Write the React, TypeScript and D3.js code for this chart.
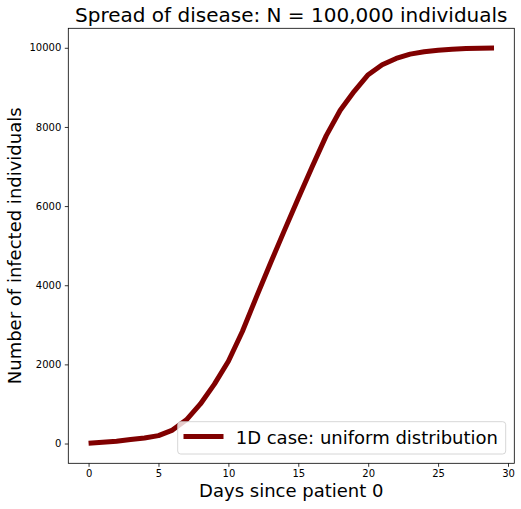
import React, { useRef, useEffect } from 'react';
import * as d3 from 'd3';

// days since patient 0 and the infected count
const days = d3.range(0, 30);
const infected = [
  5, 30, 60, 100, 140, 200, 340, 600, 1000, 1500,
  2080, 2830, 3700, 4550, 5380, 6200, 7000, 7780, 8420, 8900,
  9320, 9570, 9730, 9840, 9900, 9940, 9965, 9980, 9988, 9993,
];
const xTicks = [0, 5, 10, 15, 20, 25, 30];
const yTicks = [0, 2000, 4000, 6000, 8000, 10000];

const title = 'Spread of disease: N = 100,000 individuals';
const xLabel = 'Days since patient 0';
const yLabel = 'Number of infected individuals';
const legendLabel = '1D case: uniform distribution';

const App: React.FC = () => {
  const svgRef = useRef<SVGSVGElement>(null);

  const width = 521;
  const height = 509;
  const left = 68.3;
  const right = 514.3;
  const top = 28.3;
  const bottom = 463.3;
  const font = 'DejaVu Sans, sans-serif';
  const lineColor = '#800000';

  useEffect(() => {
    if (!svgRef.current) return;
    const svg = d3.select(svgRef.current);
    svg.selectAll('*').remove();

    // matplotlib style 5% margins
    const xPad = (d3.max(days)! - d3.min(days)!) * 0.05;
    const yMax = d3.max(infected)!;
    const yMin = Math.min(0, d3.min(infected)!);
    const yPad = (yMax - yMin) * 0.05;

    const x = d3.scaleLinear()
      .domain([d3.min(days)! - xPad, d3.max(days)! + xPad])
      .range([left, right]);
    const y = d3.scaleLinear()
      .domain([yMin - yPad, yMax + yPad])
      .range([bottom, top]);

    svg.append('rect')
      .attr('width', width).attr('height', height).attr('fill', '#fff');

    // x axis
    const gx = svg.append('g')
      .attr('transform', `translate(0,${bottom})`)
      .call(d3.axisBottom(x).tickValues(xTicks).tickSize(3.5).tickPadding(3.5).tickFormat(d3.format('d')));
    gx.select('.domain').remove();
    gx.selectAll('text').attr('font-size', 10).attr('font-family', font).attr('fill', '#000');
    gx.selectAll('line').attr('stroke', '#000').attr('stroke-width', 0.8);

    // y axis
    const gy = svg.append('g')
      .attr('transform', `translate(${left},0)`)
      .call(d3.axisLeft(y).tickValues(yTicks).tickSize(3.5).tickPadding(3.5).tickFormat(d3.format('d')));
    gy.select('.domain').remove();
    gy.selectAll('text').attr('font-size', 10).attr('font-family', font).attr('fill', '#000');
    gy.selectAll('line').attr('stroke', '#000').attr('stroke-width', 0.8);

    // the curve
    const line = d3.line<number>()
      .x((_, i) => x(days[i]))
      .y((d) => y(d));
    svg.append('path')
      .datum(infected)
      .attr('d', line)
      .attr('fill', 'none')
      .attr('stroke', lineColor)
      .attr('stroke-width', 5)
      .attr('stroke-linecap', 'butt')
      .attr('stroke-linejoin', 'round');

    // frame
    svg.append('rect')
      .attr('x', left).attr('y', top)
      .attr('width', right - left).attr('height', bottom - top)
      .attr('fill', 'none').attr('stroke', '#000').attr('stroke-width', 0.8);

    // legend, lower right
    const lg = svg.append('g');
    lg.append('rect')
      .attr('x', 177.7).attr('y', 421.7)
      .attr('width', 328).attr('height', 32.3)
      .attr('rx', 3)
      .attr('fill', '#fff').attr('fill-opacity', 0.8)
      .attr('stroke', '#ccc').attr('stroke-width', 0.8);
    lg.append('line')
      .attr('x1', 183.5).attr('x2', 223.5)
      .attr('y1', 436.5).attr('y2', 436.5)
      .attr('stroke', lineColor).attr('stroke-width', 5);
    lg.append('text')
      .attr('x', 235.7).attr('y', 443.5)
      .attr('font-size', 18).attr('font-family', font)
      .text(legendLabel);

    // titles
    svg.append('text')
      .attr('x', (left + right) / 2).attr('y', 21.7)
      .attr('text-anchor', 'middle')
      .attr('font-size', 20).attr('font-family', font)
      .text(title);
    svg.append('text')
      .attr('x', (left + right) / 2).attr('y', 497.3)
      .attr('text-anchor', 'middle')
      .attr('font-size', 18).attr('font-family', font)
      .text(xLabel);
    svg.append('text')
      .attr('transform', `translate(20.5,${(top + bottom) / 2}) rotate(-90)`)
      .attr('text-anchor', 'middle')
      .attr('font-size', 18).attr('font-family', font)
      .text(yLabel);
  }, []);

  return (
    <svg
      ref={svgRef}
      width={width}
      height={height}
      style={{ position: 'absolute', left: 0, top: 0 }}
    />
  );
};

export default App;
